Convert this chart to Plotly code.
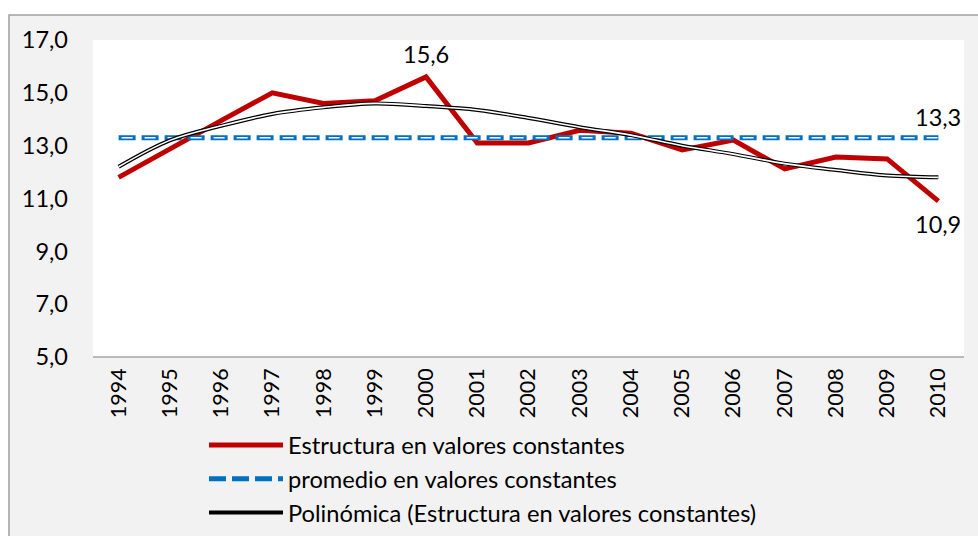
import plotly.graph_objects as go

years = ["1994", "1995", "1996", "1997", "1998", "1999", "2000", "2001", "2002",
         "2003", "2004", "2005", "2006", "2007", "2008", "2009", "2010"]
estructura = [11.8, 12.9, 13.95, 15.0, 14.6, 14.7, 15.6, 13.1, 13.1,
              13.58, 13.47, 12.84, 13.21, 12.12, 12.57, 12.5, 10.9]
promedio = [13.3, 13.3, 13.3, 13.3, 13.3, 13.3, 13.3, 13.3, 13.3,
            13.3, 13.3, 13.3, 13.3, 13.3, 13.3, 13.3, 13.3]
polinomica = [12.2, 13.2, 13.75, 14.2, 14.45, 14.6, 14.5, 14.35, 14.05,
              13.7, 13.4, 13.0, 12.68, 12.32, 12.08, 11.87, 11.8]
y_ticks = [5, 7, 9, 11, 13, 15, 17]

name_est = "Estructura en valores constantes"
name_prom = "promedio en valores constantes"
name_pol = "Polinómica (Estructura en valores constantes)"

FONT = "Lato"
RED = "#C00000"
BLUE = "#0070C0"

fig = go.Figure()

fig.add_trace(go.Scatter(x=years, y=estructura, mode="lines", name=name_est,
                         line=dict(color=RED, width=5)))
fig.add_trace(go.Scatter(x=years, y=promedio, mode="lines", name=name_prom,
                         line=dict(color=BLUE, width=5, dash="17px,6px")))
fig.add_trace(go.Scatter(x=years, y=promedio, mode="lines", showlegend=False, hoverinfo="skip",
                         line=dict(color="white", width=1.6, dash="0px,3px,11px,9px")))
fig.add_trace(go.Scatter(x=years, y=polinomica, mode="lines", name=name_pol,
                         line=dict(color="black", width=4, shape="spline")))
fig.add_trace(go.Scatter(x=years, y=polinomica, mode="lines", showlegend=False, hoverinfo="skip",
                         line=dict(color="white", width=1.6, shape="spline")))

def lab(i, series, yshift):
    fig.add_annotation(x=i, y=series[i], xref="x", yref="y",
                       text=f"{series[i]:.1f}".replace(".", ","), showarrow=False,
                       yshift=yshift, font=dict(family=FONT, size=23.5, color="black"))

lab(6, estructura, 23)
lab(16, promedio, 21)
lab(16, estructura, -23)

W, H = 978, 536
L, T = 93, 40
PLOT_RIGHT = 964          # right edge of the white plot area (reference)
PLOT_BOTTOM = 357
LEG_TOP = 423
pw, ph = W - L, PLOT_BOTTOM - T
cat_px = (PLOT_RIGHT - L) / len(years)
x_hi = len(years) - 0.5 + (W - PLOT_RIGHT) / cat_px

def px_x(p):
    return (p - L) / pw

def px_y(p):
    return (PLOT_BOTTOM - p) / ph

fig.add_shape(type="rect", xref="paper", yref="paper", layer="below",
              x0=px_x(9), x1=px_x(995), y0=px_y(560), y1=px_y(15),
              fillcolor="#F2F2F2", line=dict(color="#A0A0A0", width=1.5))
fig.add_shape(type="rect", xref="paper", yref="paper", layer="below",
              x0=0, x1=px_x(PLOT_RIGHT), y0=0, y1=1, fillcolor="white", line=dict(width=0))
fig.add_shape(type="line", xref="paper", yref="paper", layer="above",
              x0=0, x1=px_x(PLOT_RIGHT), y0=0, y1=0, line=dict(color="#A6A6A6", width=1.5))

fig.update_layout(
    width=W, height=H,
    margin=dict(l=L, r=0, t=T, b=H - PLOT_BOTTOM),
    paper_bgcolor="white", plot_bgcolor="rgba(0,0,0,0)",
    separators=",.",
    font=dict(family=FONT, size=23, color="black"),
    showlegend=True,
    legend=dict(x=px_x(204), y=px_y(LEG_TOP), xanchor="left", yanchor="top",
                traceorder="normal", itemwidth=74,
                bgcolor="rgba(0,0,0,0)",
                font=dict(family=FONT, size=23.7, color="black")),
    xaxis=dict(type="category", range=[-0.5, x_hi], tickangle=-90,
               showline=False, showgrid=False, zeroline=False,
               ticks="", ticklabelstandoff=6, tickfont=dict(family=FONT, size=21.5)),
    yaxis=dict(range=[5, 17], tickvals=y_ticks, tickformat=".1f", showgrid=False,
               zeroline=False, showline=False, ticks="", ticklabelstandoff=24,
               tickfont=dict(family=FONT, size=23.5)),
)

fig.write_html("out.html", config={"displayModeBar": False},
               post_script="document.body.style.margin='0';")
